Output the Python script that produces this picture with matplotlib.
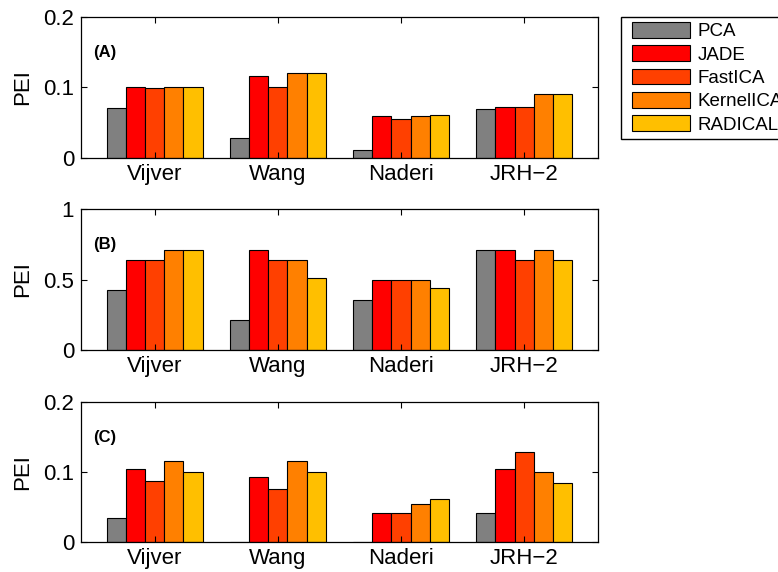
import numpy as np
import matplotlib
matplotlib.use("Agg")
from matplotlib import pyplot as plt
from matplotlib.patches import Rectangle
from matplotlib.ticker import FormatStrFormatter

plt.rcParams['font.family'] = ['Liberation Sans', 'DejaVu Sans']

# datasets and methods
datasets = ["Vijver", "Wang", "Naderi", "JRH\u22122"]
methods = ["PCA", "JADE", "FastICA", "KernelICA", "RADICAL"]
colors = ["#808080", "#ff0000", "#ff4000", "#ff8000", "#ffbf00"]

# PEI per method (rows) and dataset (columns)
pei_a = [[0.071, 0.028, 0.011, 0.069],
         [0.101, 0.116, 0.060, 0.072],
         [0.099, 0.101, 0.056, 0.072],
         [0.101, 0.120, 0.060, 0.091],
         [0.101, 0.120, 0.061, 0.091]]
pei_b = [[0.426, 0.213, 0.357, 0.711],
         [0.640, 0.711, 0.497, 0.711],
         [0.640, 0.640, 0.497, 0.640],
         [0.711, 0.640, 0.497, 0.711],
         [0.711, 0.508, 0.437, 0.640]]
pei_c = [[0.035, 0.000, 0.000, 0.041],
         [0.104, 0.093, 0.041, 0.104],
         [0.087, 0.076, 0.041, 0.128],
         [0.116, 0.116, 0.055, 0.100],
         [0.100, 0.100, 0.061, 0.085]]

panels = [("(A)", pei_a, [0, 0.1, 0.2]),
          ("(B)", pei_b, [0, 0.5, 1]),
          ("(C)", pei_c, [0, 0.1, 0.2])]

W, H = 778, 572
fig = plt.figure(figsize=(W / 100, H / 100), dpi=100)
boxes = [[0.1041, 0.7238, 0.6645, 0.2465],
         [0.1041, 0.3881, 0.6645, 0.2465],
         [0.1041, 0.0524, 0.6645, 0.2448]]

x = np.arange(1, len(datasets) + 1)
bw = 0.155
handles = []
for (tag, vals, yt), box in zip(panels, boxes):
    ax = fig.add_axes(box)
    for i, m in enumerate(methods):
        off = (i - 2) * bw
        h = ax.bar(x + off, vals[i], width=bw, color=colors[i],
                   edgecolor="black", linewidth=0.8, label=m)
        if len(handles) < len(methods):
            handles.append(h)
    ax.set_xlim(0.4, 4.6)
    ax.set_ylim(yt[0], yt[-1])
    ax.set_yticks(yt)
    ax.yaxis.set_major_formatter(FormatStrFormatter("%g"))
    ax.set_xticks(x)
    ax.set_xticklabels(datasets)
    ax.tick_params(direction="in", length=4, width=0.8, top=True, right=True,
                   labelsize=16)
    ax.tick_params(axis="y", pad=5)
    ax.tick_params(axis="x", pad=4)
    ax.set_ylabel("PEI", fontsize=16, labelpad=7)
    for s in ax.spines.values():
        s.set_linewidth(0.9)
    ax.text(0.5, yt[-1] * 0.75, tag, fontsize=12, fontweight="bold",
            va="center", ha="left")

# legend box runs off the right edge of the figure
fig.patches.append(Rectangle((621 / W, 1 - 139 / H), 200 / W, 122 / H,
                             transform=fig.transFigure, facecolor="white",
                             edgecolor="black", linewidth=1.0, zorder=1))
leg = fig.legend(handles, methods, loc="upper left",
                 bbox_to_anchor=(632 / W, 1 - 22 / H),
                 fontsize=13.5, frameon=False,
                 handlelength=3.1, handleheight=0.9, labelspacing=0.27,
                 handletextpad=0.4, borderpad=0, borderaxespad=0)
leg.set_zorder(2)

fig.savefig("out.png", dpi=100)
